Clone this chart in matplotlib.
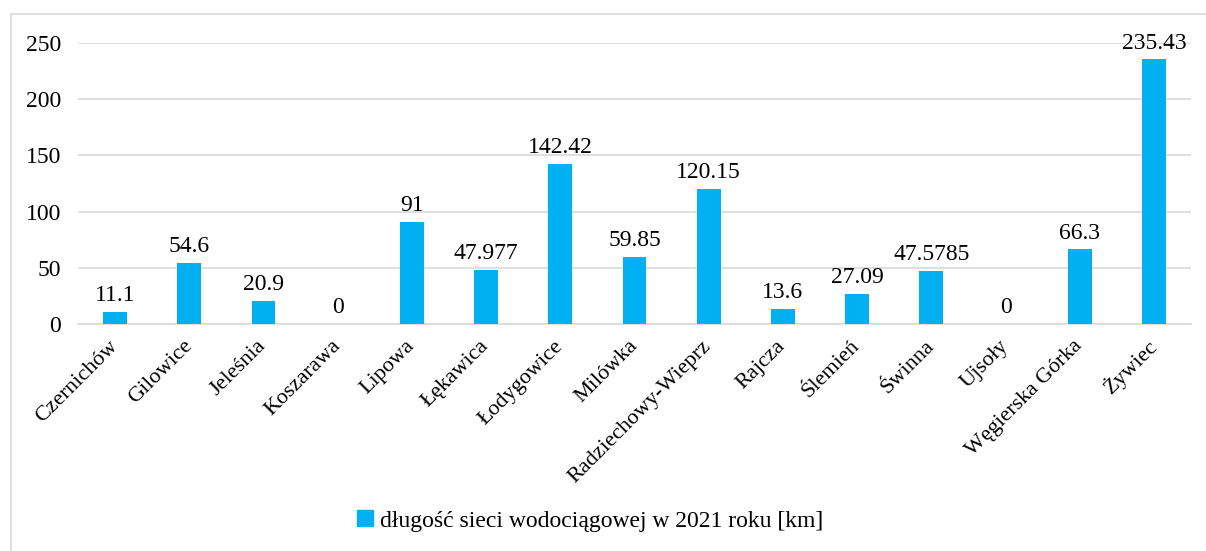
import matplotlib
matplotlib.use("Agg")
import matplotlib.pyplot as plt
from matplotlib.patches import Rectangle

categories = ["Czernichów", "Gilowice", "Jeleśnia", "Koszarawa", "Lipowa", "Łękawica",
              "Łodygowice", "Milówka", "Radziechowy-Wieprz", "Rajcza", "Ślemień",
              "Świnna", "Ujsoły", "Węgierska Górka", "Żywiec"]
values = [11.1, 54.6, 20.9, 0, 91, 47.977, 142.42, 59.85, 120.15, 13.6, 27.09,
          47.5785, 0, 66.3, 235.43]
labels = ["11.1", "54.6", "20.9", "0", "91", "47.977", "142.42", "59.85", "120.15",
          "13.6", "27.09", "47.5785", "0", "66.3", "235.43"]
series_name = "długość sieci wodociągowej w 2021 roku [km]"
yticks = [0, 50, 100, 150, 200, 250]

plt.rcParams['font.family'] = ['Liberation Serif', 'DejaVu Serif']
FS = 17
W, H = 1206, 551
fig = plt.figure(figsize=(W / 100, H / 100), dpi=100)
fig.patches.append(Rectangle((11 / W, -0.01), 1.1, (H - 14) / H + 0.01,
                             transform=fig.transFigure, fill=False,
                             edgecolor='#D9D9D9', linewidth=1.2))

ax = fig.add_axes([78 / W, 1 - 324 / H, (1191 - 78) / W, (324 - 43) / H])
color = '#00B0F0'
x = list(range(len(categories)))
bars = ax.bar(x, values, width=0.32, color=color, zorder=3)
for xi, v, lab in zip(x, values, labels):
    ax.text(xi, v + 5, lab, ha='center', va='bottom', fontsize=FS, color='#000000')

ax.set_xlim(-0.5, len(categories) - 0.5)
ax.set_ylim(0, 250)
ax.set_yticks(yticks)
ax.set_yticklabels([str(t) for t in yticks], fontsize=FS)
ax.yaxis.grid(True, color='#D9D9D9', linewidth=1.2, zorder=0)
ax.set_axisbelow(True)
for s in ['top', 'right', 'left']:
    ax.spines[s].set_visible(False)
ax.spines['bottom'].set_color('#D9D9D9')
ax.spines['bottom'].set_linewidth(1.2)
ax.tick_params(axis='both', length=0)
ax.tick_params(axis='y', pad=12)
ax.set_xticks(x)
ax.set_xticklabels(categories, rotation=45, ha='right', va='center',
                   rotation_mode='anchor', fontsize=16)
ax.tick_params(axis='x', pad=14)

leg = fig.legend(handles=[Rectangle((0, 0), 1, 1, color=color)], labels=[series_name],
                 loc='center', bbox_to_anchor=(590 / W, 1 - 521 / H), frameon=False,
                 fontsize=FS, handlelength=0.65, handleheight=0.65, handletextpad=0.3)

fig.savefig("out.png", dpi=100)
